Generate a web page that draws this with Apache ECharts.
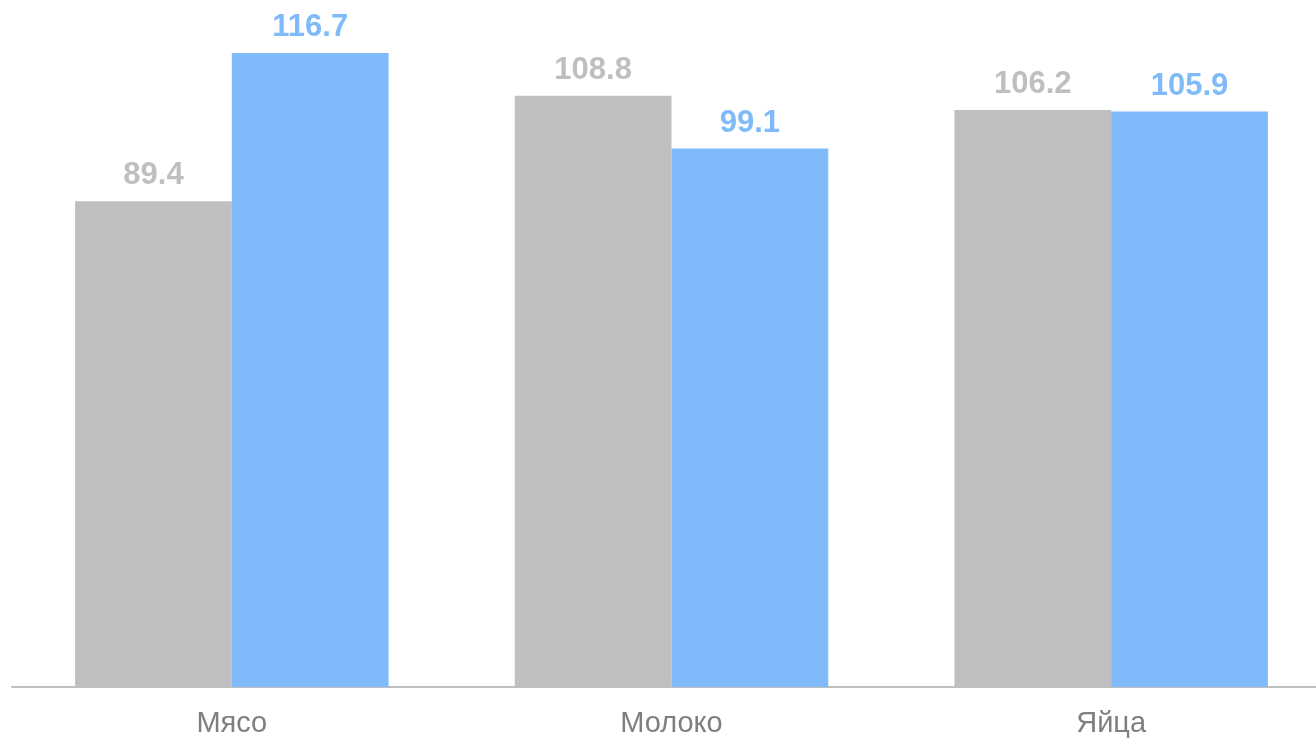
<!DOCTYPE html>
<html>
<head>
<meta charset="utf-8">
<style>html,body{margin:0;padding:0;background:#fff;overflow:hidden;}#c{width:1331px;height:738px;}</style>
<script src="https://cdn.jsdelivr.net/npm/echarts@6/dist/echarts.min.js"></script>
</head>
<body>
<div id="c"></div>
<script>
const categories = ['Мясо', 'Молоко', 'Яйца'];
const seriesGrey = [89.4, 108.8, 106.2];
const seriesBlue = [116.7, 99.1, 105.9];

const chart = echarts.init(document.getElementById('c'));
const labelBase = { show: true, position: 'top', distance: 10, fontFamily: 'Liberation Sans, Arial, sans-serif', fontSize: 31, fontWeight: 'bold' };
chart.setOption({
  animation: false,
  grid: { left: 12, right: 0, top: 35, bottom: 50, containLabel: false },
  xAxis: {
    type: 'category',
    data: categories,
    axisLine: { show: true, lineStyle: { color: '#bfbfbf', width: 2 } },
    axisTick: { show: false },
    axisLabel: { color: '#7f7f7f', fontSize: 29, fontFamily: 'Liberation Sans, Arial, sans-serif', margin: 22 }
  },
  yAxis: {
    type: 'value', min: 0, max: 120,
    show: false,
    splitLine: { show: false }
  },
  series: [
    { type: 'bar', data: seriesGrey, barGap: '0%', barCategoryGap: '28.7%',
      itemStyle: { color: '#bfbfbf' },
      label: Object.assign({}, labelBase, { color: '#bfbfbf' }) },
    { type: 'bar', data: seriesBlue, barGap: '0%', barCategoryGap: '28.7%',
      itemStyle: { color: '#7fbbfb' },
      label: Object.assign({}, labelBase, { color: '#7fbbfb' }) }
  ]
});
</script>
</body>
</html>
